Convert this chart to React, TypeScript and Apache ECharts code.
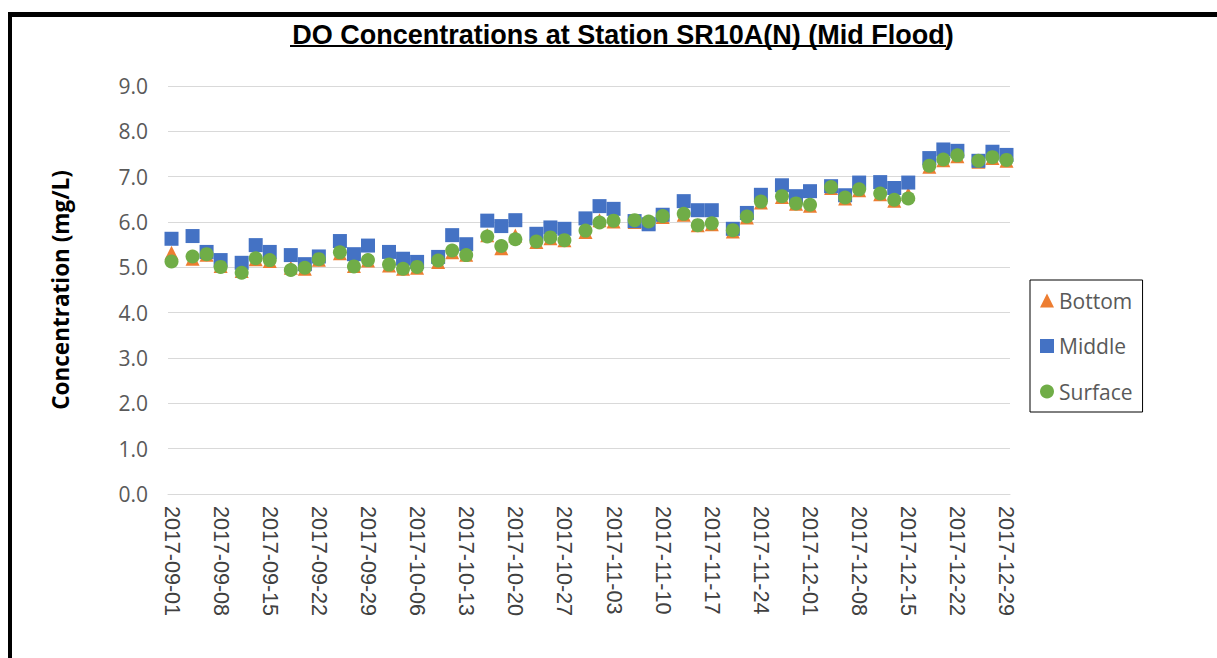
import React, { useEffect, useRef } from "react";
import * as echarts from "echarts";

const titleText = "DO Concentrations at Station SR10A(N) (Mid Flood)";
const yAxisTitle = "Concentration (mg/L)";
const seriesNames = ["Bottom", "Middle", "Surface"];

const sampleDates = [
  "2017-09-01", "2017-09-04", "2017-09-06", "2017-09-08", "2017-09-11", "2017-09-13", "2017-09-15",
  "2017-09-18", "2017-09-20", "2017-09-22", "2017-09-25", "2017-09-27", "2017-09-29",
  "2017-10-02", "2017-10-04", "2017-10-06", "2017-10-09", "2017-10-11", "2017-10-13",
  "2017-10-16", "2017-10-18", "2017-10-20", "2017-10-23", "2017-10-25", "2017-10-27", "2017-10-30",
  "2017-11-01", "2017-11-03", "2017-11-06", "2017-11-08", "2017-11-10", "2017-11-13",
  "2017-11-15", "2017-11-17", "2017-11-20", "2017-11-22", "2017-11-24", "2017-11-27", "2017-11-29",
  "2017-12-01", "2017-12-04", "2017-12-06", "2017-12-08", "2017-12-11", "2017-12-13",
  "2017-12-15", "2017-12-18", "2017-12-20", "2017-12-22", "2017-12-25", "2017-12-27", "2017-12-29",
];

const bottomValues = [
  5.32, 5.19, 5.28, 5.03, 4.92, 5.18, 5.14, 4.99, 4.97, 5.17, 5.31, 5.03, 5.15,
  5.04, 4.97, 4.99, 5.12, 5.33, 5.28, 5.71, 5.42, 5.70, 5.56, 5.64, 5.60, 5.78,
  6.04, 6.01, 6.00, 5.99, 6.11, 6.16, 5.93, 5.95, 5.79, 6.10, 6.43, 6.55, 6.40,
  6.36, 6.75, 6.52, 6.70, 6.61, 6.47, 6.62, 7.22, 7.36, 7.45, 7.33, 7.41, 7.35,
];

const middleValues = [
  5.63, 5.69, 5.34, 5.16, 5.10, 5.49, 5.34, 5.27, 5.07, 5.24, 5.58, 5.29, 5.48,
  5.34, 5.19, 5.12, 5.23, 5.71, 5.51, 6.03, 5.91, 6.04, 5.74, 5.88, 5.85, 6.08,
  6.35, 6.29, 6.02, 5.95, 6.16, 6.46, 6.26, 6.26, 5.85, 6.20, 6.60, 6.81, 6.57,
  6.68, 6.79, 6.59, 6.87, 6.88, 6.75, 6.87, 7.41, 7.60, 7.57, 7.35, 7.55, 7.48,
];

const surfaceValues = [
  5.13, 5.24, 5.29, 5.01, 4.88, 5.20, 5.16, 4.94, 4.99, 5.18, 5.33, 5.02, 5.16,
  5.06, 4.97, 5.01, 5.15, 5.37, 5.27, 5.68, 5.47, 5.62, 5.57, 5.66, 5.60, 5.81,
  5.99, 6.03, 6.04, 6.01, 6.13, 6.18, 5.93, 5.97, 5.82, 6.12, 6.45, 6.57, 6.41,
  6.38, 6.77, 6.54, 6.72, 6.63, 6.49, 6.52, 7.24, 7.38, 7.47, 7.35, 7.43, 7.37,
];

const tickLabels = [
  "2017-09-01", "2017-09-08", "2017-09-15", "2017-09-22", "2017-09-29", "2017-10-06",
  "2017-10-13", "2017-10-20", "2017-10-27", "2017-11-03", "2017-11-10", "2017-11-17",
  "2017-11-24", "2017-12-01", "2017-12-08", "2017-12-15", "2017-12-22", "2017-12-29",
];

const startDate = "2017-09-01";
const endDate = "2017-12-29";

function dayNum(s: string): number {
  const [y, m, d] = s.split("-").map(Number);
  return Date.UTC(y, m - 1, d) / 86400000;
}
const dayOffset = (s: string) => dayNum(s) - dayNum(startDate);

const colors = ["#ED7D31", "#4472C4", "#70AD47"];
const symbols = ["triangle", "rect", "circle"];

export default function App() {
  const ref = useRef<HTMLDivElement>(null);
  useEffect(() => {
    document.body.style.margin = "0";
    const chart = echarts.init(ref.current!, null, { renderer: "svg" });
    const allValues = [bottomValues, middleValues, surfaceValues];
    const labelMap: Record<number, string> = {};
    tickLabels.forEach((t) => (labelMap[dayOffset(t)] = t));
    chart.setOption({
      animation: false,
      backgroundColor: "#ffffff",
      title: {
        text: titleText,
        left: 618,
        textAlign: "center",
        top: 16,
        textStyle: {
          fontFamily: "'Liberation Sans', Arial, sans-serif",
          fontWeight: "bold",
          fontSize: 27,
          color: "#000000",
        },
      },
      graphic: [
        { type: "rect", shape: { x: 8, y: 12, width: 1209, height: 5 }, style: { fill: "#000" } },
        { type: "rect", shape: { x: 8, y: 12, width: 4, height: 646 }, style: { fill: "#000" } },
        { type: "line", shape: { x1: 290, y1: 46, x2: 946, y2: 46 }, style: { stroke: "#000", lineWidth: 2 } },
      ],
      legend: {
        orient: "vertical",
        left: 1030,
        top: 280,
        borderColor: "#000000",
        borderWidth: 1,
        padding: [10, 10, 10, 10],
        itemGap: 24.5,
        itemWidth: 14,
        itemHeight: 14,
        textStyle: { fontFamily: "'Open Sans', sans-serif", fontSize: 21, color: "#595959" },
        data: seriesNames.map((n, i) => ({ name: n, icon: symbols[i] })),
      },
      grid: { left: 168, right: 207, top: 86, bottom: 164, containLabel: false },
      xAxis: {
        type: "value",
        min: dayOffset(startDate) - 0.5,
        max: dayOffset(endDate) + 0.5,
        splitLine: { show: false },
        axisTick: { show: false },
        axisLine: { show: true, lineStyle: { color: "#d9d9d9", width: 1 } },
        axisLabel: {
          customValues: tickLabels.map(dayOffset),
          rotate: -90,
          margin: 12,
          fontFamily: "'Liberation Sans', Arial, sans-serif",
          fontSize: 21.5,
          color: "#404040",
          formatter: (v: number) => labelMap[Math.round(v)] ?? "",
        },
      },
      yAxis: {
        type: "value",
        min: 0,
        max: 9,
        interval: 1,
        name: yAxisTitle,
        nameLocation: "middle",
        nameGap: 96,
        nameTextStyle: {
          fontFamily: "'Open Sans', sans-serif",
          fontWeight: "bold",
          fontSize: 22.5,
          color: "#000000",
        },
        axisLine: { show: false },
        axisTick: { show: false },
        splitLine: { lineStyle: { color: "#d9d9d9", width: 1 } },
        axisLabel: {
          formatter: (v: number) => v.toFixed(1),
          margin: 20,
          fontFamily: "'Open Sans', sans-serif",
          fontSize: 21,
          color: "#595959",
        },
      },
      series: seriesNames.map((n, i) => ({
        name: n,
        type: "scatter",
        symbol: symbols[i],
        symbolSize: 14,
        itemStyle: { color: colors[i], opacity: 1 },
        data: sampleDates.map((d, j) => [dayOffset(d), allValues[i][j]]),
        z: 2 + i,
      })),
    });
    return () => chart.dispose();
  }, []);
  return <div ref={ref} style={{ width: 1217, height: 658 }} />;
}
